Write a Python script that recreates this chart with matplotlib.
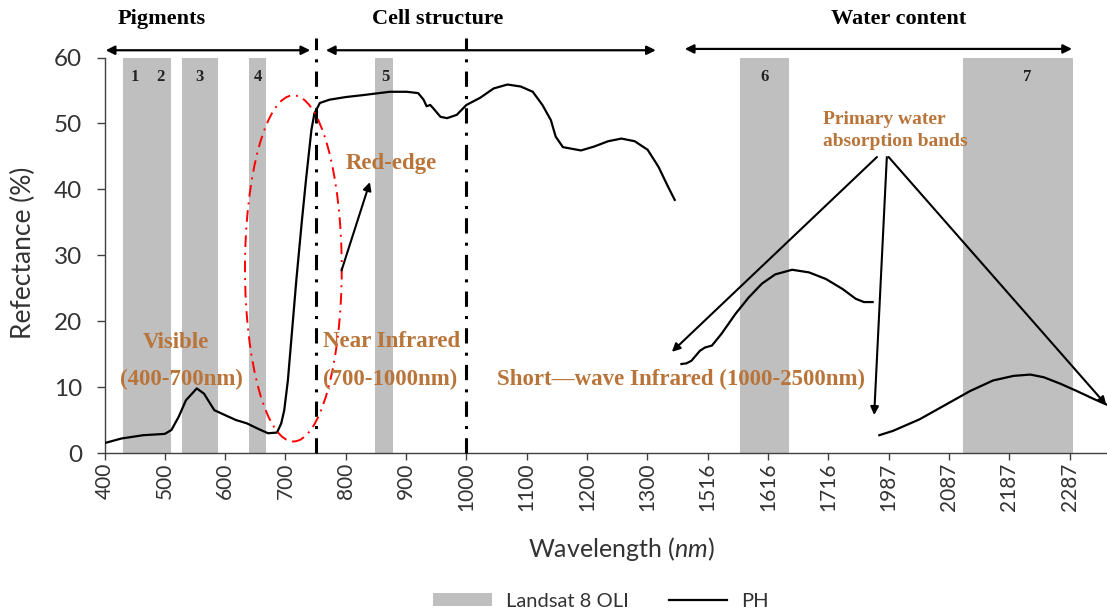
import numpy as np
import matplotlib
matplotlib.use("Agg")
import matplotlib.pyplot as plt
from matplotlib.patches import Ellipse, Patch
from matplotlib.lines import Line2D

plt.rcParams['font.family'] = ['Lato', 'DejaVu Sans']
plt.rcParams['mathtext.fontset'] = 'custom'
plt.rcParams['mathtext.it'] = 'Lato:italic'
plt.rcParams['mathtext.rm'] = 'Lato'

# ---------------- data ----------------
tick_labels = [400, 500, 600, 700, 800, 900, 1000, 1100, 1200, 1300,
               1516, 1616, 1716, 1987, 2087, 2187, 2287]

# spectrum segment 1 (visible / NIR)
wl_vnir = [400, 428, 464, 500, 511, 523, 535, 553, 565, 582, 601, 618, 636,
           654, 671, 686, 693, 698, 704, 711, 718, 727, 734, 743, 748, 757,
           773, 800, 829, 873, 901, 920, 929, 934, 940, 945, 957, 968, 984,
           1000, 1023, 1045, 1068, 1090, 1110, 1126, 1140, 1148, 1160, 1190,
           1212, 1235, 1257, 1279, 1301, 1340, 1374, 1398]
r_vnir = [1.5, 2.2, 2.7, 2.9, 3.5, 5.5, 8.0, 9.8, 9.0, 6.5, 5.7, 5.0, 4.5,
          3.7, 3.0, 3.1, 4.5, 6.5, 11.0, 18.6, 26.2, 35.0, 41.4, 49.0, 51.5, 53.1,
          53.6, 54.0, 54.3, 54.8, 54.8, 54.6, 53.6, 52.6, 52.8, 52.3, 51.0, 50.8, 51.3,
          52.8, 53.9, 55.3, 55.9, 55.6, 54.8, 52.8, 50.5, 48.0, 46.4, 45.9,
          46.5, 47.3, 47.7, 47.3, 46.0, 43.4, 40.4, 38.4]

# spectrum segment 2 (SWIR 1)
wl_swir1 = [1422, 1440, 1458, 1488, 1506, 1523, 1539, 1562, 1584, 1606, 1628,
            1656, 1684, 1712, 1779, 1839, 1876, 1915]
r_swir1 = [13.5, 13.6, 14.0, 15.5, 16.0, 16.3, 18.1, 21.1, 23.6, 25.7, 27.1,
           27.8, 27.4, 26.4, 24.9, 23.4, 22.9, 22.9]

# spectrum segment 3 (SWIR 2)
wl_swir2 = [1945, 1994, 2038, 2083, 2122, 2160, 2194, 2222, 2244, 2272, 2299, 2327, 2352]
r_swir2 = [2.7, 3.35, 5.1, 7.4, 9.4, 11.0, 11.7, 11.9, 11.5, 10.5, 9.4, 8.2, 7.2]

# Landsat 8 OLI bands (start, end) nm
band_start = [430, 528, 639, 848, 1569, 2111]
band_end = [510, 588, 668, 878, 1651, 2293]
band_names = ['1', '2', '3', '4', '5', '6', '7']
band_label_wl = [450, 493, 558, 655, 866, 1611, 2216]

GRAY = '#BFBFBF'
BROWN = '#B9743A'
TXT = '#333333'

pos_anchor = np.arange(len(tick_labels) + 1)
wl_anchor = np.array(tick_labels + [2387])


def wl2pos(w):
    return np.interp(np.asarray(w, dtype=float), wl_anchor, pos_anchor)


fig = plt.figure(figsize=(11.07, 6.15), dpi=100)
ax = fig.add_axes([0.0944, 0.2634, 0.9056, 0.6431])
ax.set_xlim(0, 16.62)
ax.set_ylim(0, 60)

# bands
for s, e in zip(band_start, band_end):
    ax.axvspan(wl2pos(s), wl2pos(e), color=GRAY, lw=0, zorder=1)
for name, w in zip(band_names, band_label_wl):
    ax.text(wl2pos(w), 57.0, name, ha='center', va='center', fontsize=12,
            fontweight='bold', family='Liberation Serif', color='#222222', zorder=3)

# curve
lw_curve = 1.6
ax.plot(wl2pos(wl_vnir), r_vnir, color='black', lw=lw_curve, zorder=4)
ax.plot(wl2pos(wl_swir1), r_swir1, color='black', lw=lw_curve, zorder=4)
ax.plot(wl2pos(wl_swir2), r_swir2, color='black', lw=lw_curve, zorder=4)

# dash-dot region separators
for w in [750, 1000]:
    ax.plot([wl2pos(w)] * 2, [0, 63], color='black', lw=2.2,
            ls=(0, (5, 3, 1, 3)), clip_on=False, zorder=5)

# red ellipse
ell = Ellipse((3.131, 28.0), 1.604, 52.5, fill=False, edgecolor='red',
              lw=1.4, ls=(0, (6, 3, 1, 3)), zorder=6)
ax.add_patch(ell)

# axes style
for sp in ['top', 'right']:
    ax.spines[sp].set_visible(False)
for sp in ['left', 'bottom']:
    ax.spines[sp].set_color('#404040')
    ax.spines[sp].set_linewidth(1.0)
ax.set_xticks(np.arange(len(tick_labels)))
ax.set_xticklabels([str(t) for t in tick_labels], rotation=90, fontsize=15, color=TXT)
ax.set_yticks(np.arange(0, 61, 10))
ax.set_yticklabels([str(v) for v in range(0, 61, 10)], fontsize=17.5, color=TXT)
ax.tick_params(axis='x', direction='out', length=5, width=1, color='#404040', pad=2)
ax.tick_params(axis='y', direction='out', length=6, width=1, color='#404040', pad=10)
ax.set_ylabel('Refectance (%)', fontsize=19, color=TXT)
ax.yaxis.set_label_coords((36 - 104.5) / 1002.5, 0.506)
ax.set_xlabel('Wavelength ($\\mathit{nm}$)', fontsize=18, color=TXT)
ax.xaxis.set_label_coords((621 - 104.5) / 1002.5, -0.207)

serif = 'Liberation Serif'
# headings
for txt, x in [('Pigments', 0.95), ('Cell structure', 5.52), ('Water content', 13.16)]:
    ax.text(x, 65.9, txt, ha='center', va='center', fontsize=16, fontweight='bold',
            family=serif, color='black', clip_on=False)

# top double arrows
for x0, x1, y in [(0.02, 3.41, 61.1), (3.67, 9.14, 61.1), (9.62, 16.04, 61.3)]:
    ax.annotate('', xy=(x1, y), xytext=(x0, y), annotation_clip=False,
                arrowprops=dict(arrowstyle='<|-|>', color='black', lw=1.6,
                                mutation_scale=13, shrinkA=0, shrinkB=0))

# brown labels
bt = dict(fontsize=16.5, fontweight='bold', family=serif, color=BROWN, ha='center', va='center', zorder=7)
ax.text(1.19, 16.7, 'Visible', **bt)
ax.text(1.28, 11.2, '(400-700nm)', **bt)
ax.text(4.76, 16.9, 'Near Infrared', **bt)
ax.text(4.73, 11.1, '(700-1000nm)', **bt)
ax.text(9.56, 11.2, 'Short\u2014wave Infrared (1000-2500nm)', **bt)
ax.text(4.76, 43.9, 'Red-edge', **bt)
ax.text(11.915, 48.9, 'Primary water\nabsorption bands', fontsize=14, fontweight='bold',
        family=serif, color=BROWN, ha='left', va='center', linespacing=1.4, zorder=7)

ap = dict(arrowstyle='-|>', color='black', lw=1.5, mutation_scale=12, shrinkA=0, shrinkB=0)
ax.annotate('', xy=(4.40, 41.1), xytext=(3.93, 27.7), arrowprops=ap, zorder=8)
ax.annotate('', xy=(9.406, 15.35), xytext=(12.806, 44.9), arrowprops=ap, zorder=8)
ax.annotate('', xy=(12.76, 5.76), xytext=(12.97, 44.9), arrowprops=ap, zorder=8)
ax.annotate('', xy=(16.61, 7.27), xytext=(13.0, 44.9), arrowprops=ap, zorder=8,
            annotation_clip=False)

# legend
handles = [Patch(facecolor=GRAY, edgecolor='none', label='Landsat 8 OLI'),
           Line2D([], [], color='black', lw=1.6, label='PH')]
fig.legend(handles=handles, loc='center', bbox_to_anchor=(0.543, 0.022), ncol=2,
           frameon=False, fontsize=14.5, handlelength=2.9, handleheight=0.6,
           handletextpad=0.7, columnspacing=2.0, labelcolor=TXT)

fig.savefig('out.png', dpi=100)
